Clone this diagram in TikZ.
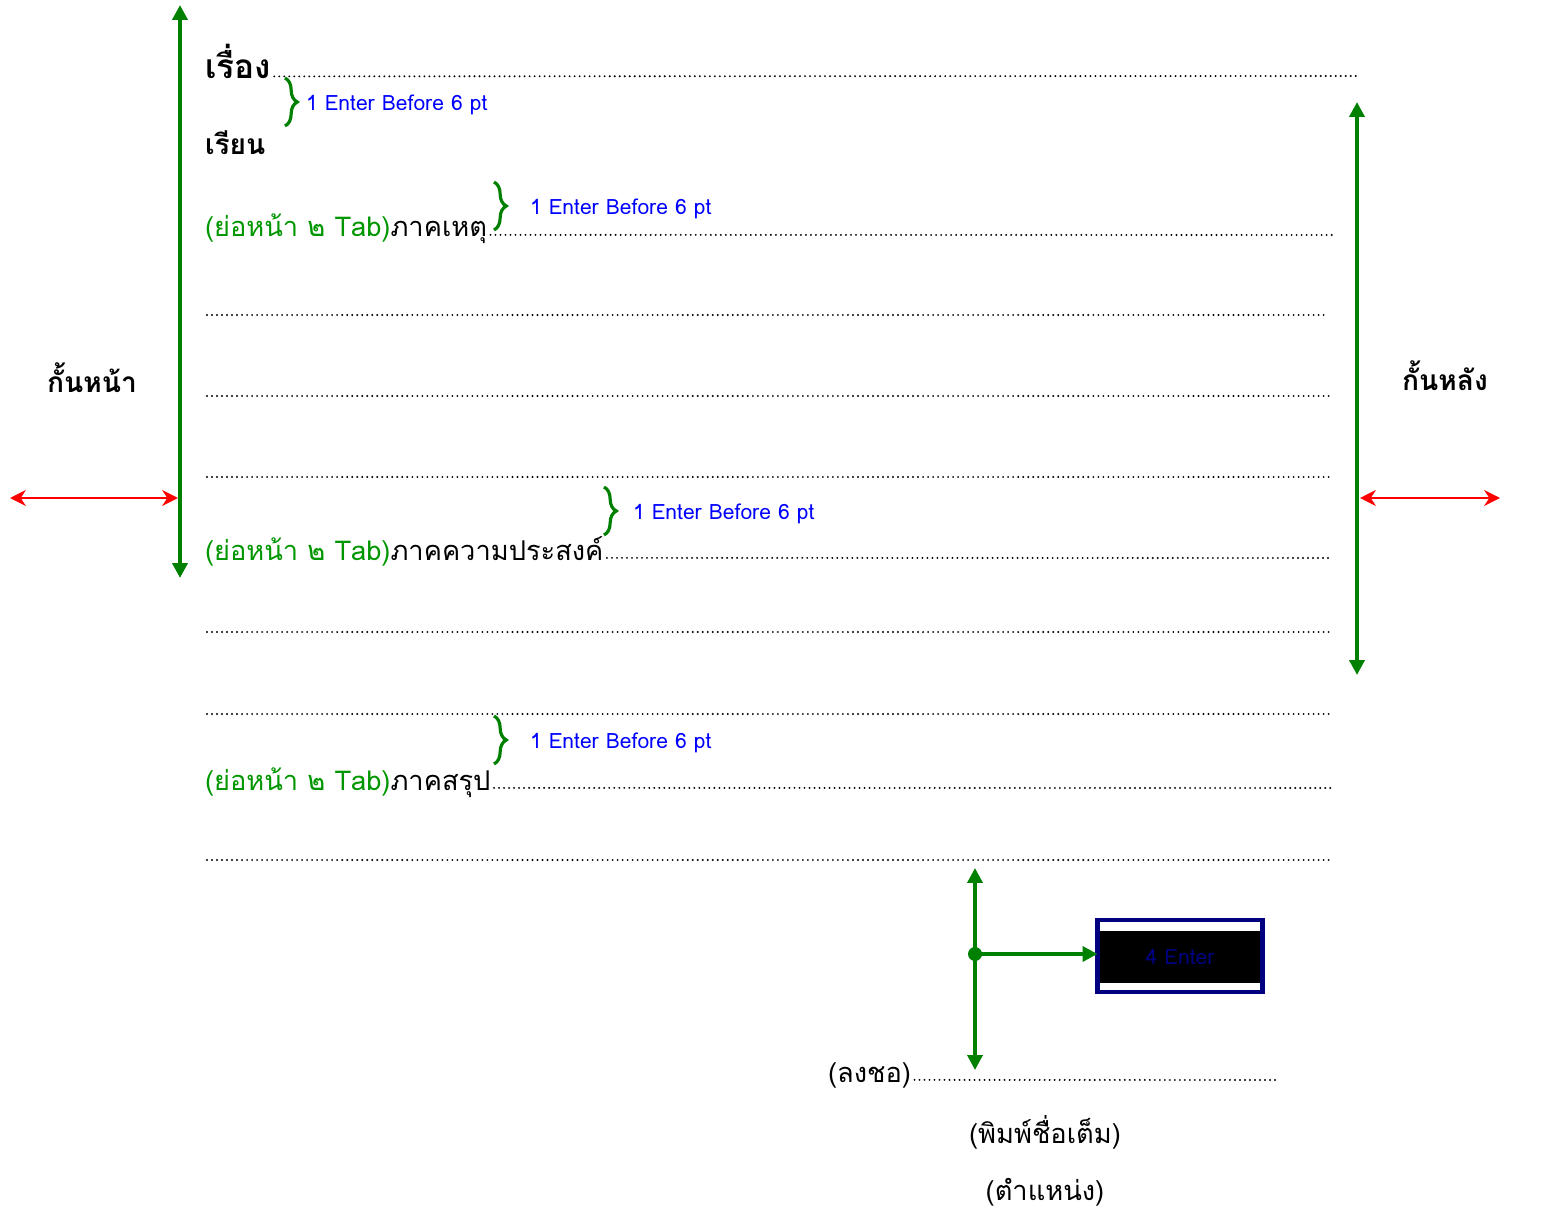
\documentclass[tikz,border=0pt]{standalone}
\usepackage{fontspec}
\setmainfont[Script=Thai]{Loma}
\usetikzlibrary{arrows.meta,decorations.pathreplacing}
\definecolor{margingreen}{RGB}{0,128,0}
\definecolor{indentgreen}{RGB}{0,150,0}
\definecolor{notenavy}{RGB}{0,0,128}

\begin{document}
\begin{tikzpicture}[x=0.02cm,y=-0.02cm,
    every node/.style={inner sep=0pt, outer sep=0pt},
    marginarrow/.style={draw=margingreen, line width=2.3pt, {Triangle[length=8.5pt,width=8.5pt]}-{Triangle[length=8.5pt,width=8.5pt]}},
    gaparrow/.style={draw=red, line width=1.5pt, {Stealth[length=9pt,width=9pt]}-{Stealth[length=9pt,width=9pt]}},
    leaderline/.style={line width=1.2pt, dash pattern=on 0pt off 2.85pt, line cap=round},
    bracemark/.style={draw=margingreen, line width=1.8pt, decorate, decoration={brace, amplitude=7pt}},
    notetext/.style={text=blue, font=\fontsize{12}{14}\selectfont, anchor=west},
    bodytext/.style={font=\fontsize{15.5}{18}\selectfont, anchor=base west},
    headtext/.style={font=\bfseries\fontsize{16}{20}\selectfont},
  ]
  \useasboundingbox (0,0) rectangle (1545,1216);

  % margins
  \node[headtext] (front) at (92,378) {กั้นหน้า};
  \node[headtext] (back)  at (1445,376) {กั้นหลัง};
  \coordinate (fronttop) at (180,5);
  \coordinate (frontbot) at (180,578);
  \coordinate (backtop)  at (1357,102);
  \coordinate (backbot)  at (1357,675);
  \coordinate (frontout) at (10,498);
  \coordinate (frontin)  at (178,498);
  \coordinate (backin)   at (1360,498);
  \coordinate (backout)  at (1500,498);
  \draw[marginarrow] (frontbot) -- (fronttop);
  \draw[marginarrow] (backbot) -- (backtop);
  \draw[gaparrow] (frontout) -- (frontin);
  \draw[gaparrow] (backin) -- (backout);

  % heading
  \node[headtext, font=\bfseries\fontsize{19}{22}\selectfont, anchor=base west] (subject) at (205,79) {เรื่อง};
  \node[headtext, anchor=base west] (dear) at (205,155) {เรียน};
  \coordinate (subjectend) at (1360,76);
  \draw[leaderline] ([xshift=2pt,yshift=1.5pt]subject.base east) -- (subjectend);

  % the three parts
  \foreach \n/\y/\part in {1/237/ภาคเหตุ, 2/560/ภาคความประสงค์, 3/790/ภาคสรุป} {
    \node[bodytext, text=indentgreen] (indent\n) at (205,\y) {(ย่อหน้า ๒ Tab)};
    \node[bodytext] (part\n) at (indent\n.base east) {\part};
    \coordinate (partend\n) at (1332,\y-2);
    \draw[leaderline] ([xshift=2pt,yshift=1.2pt]part\n.base east) -- (partend\n);
  }

  % empty lines
  \foreach \y/\xe in {315/1325, 396/1332, 477/1332, 632/1332, 714/1332, 860/1332}
    \draw[leaderline] (207,\y) -- (\xe,\y);

  % spacing notes
  \foreach \b/\x/\ya/\yb/\lx in {1/285/78/126/306, 2/494/182/230/530, 3/604/487/535/633, 4/494/716/764/530} {
    \coordinate (bracetop\b) at (\x,\ya);
    \coordinate (bracebot\b) at (\x,\yb);
    \draw[bracemark] (bracetop\b) -- (bracebot\b);
    \node[notetext] (note\b) at (\lx,{(\ya+\yb)/2+3}) {1 Enter Before 6 pt};
  }

  % signature
  \node[draw=notenavy, line width=2.5pt, fill=white, minimum width=3.3cm, minimum height=1.45cm] (enterbox) at (1180,956) {};
  \node[fill=black, minimum width=3.22cm, minimum height=1.04cm, text=notenavy, font=\fontsize{12}{14}\selectfont] (entertext) at (1180,957) {4 Enter};
  \coordinate (sigtop) at (975,868);
  \coordinate (sigbot) at (975,1070);
  \coordinate (sigmid) at (975,954);
  \draw[marginarrow, line width=2pt] (sigbot) -- (sigtop);
  \fill[margingreen] (sigmid) circle (7);
  \draw[draw=margingreen, line width=2pt, -{Triangle[length=8.5pt,width=8.5pt]}] (sigmid) -- (sigmid -| enterbox.west);

  \node[bodytext] (sign) at (828,1082) {(ลงชอ)};
  \coordinate (signend) at (1280,1080);
  \draw[leaderline] ([xshift=2pt,yshift=1.2pt]sign.base east) -- (signend);
  \node[bodytext, anchor=center] (fullname) at (1045,1132) {(พิมพ์ชื่อเต็ม)};
  \node[bodytext, anchor=center] (position) at (1045,1192) {(ตำแหน่ง)};
\end{tikzpicture}
\end{document}
